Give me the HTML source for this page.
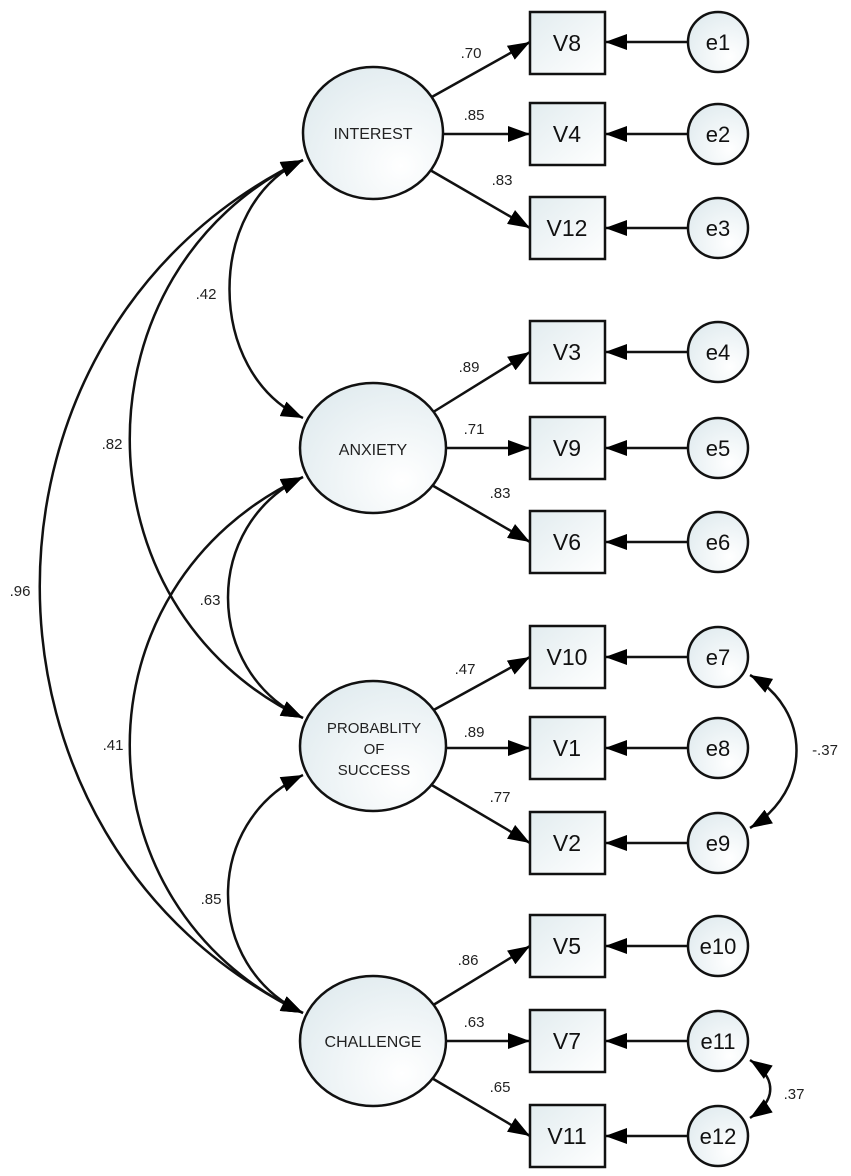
<!DOCTYPE html>
<html><head><meta charset="utf-8"><style>
html,body{margin:0;padding:0;background:#fff;}
svg{display:block;font-family:"Liberation Sans",Arial,sans-serif;}
</style></head><body>
<svg width="851" height="1176" viewBox="0 0 851 1176" xmlns="http://www.w3.org/2000/svg">
<defs>
<radialGradient id="g" cx="0.7" cy="0.75" r="0.9">
<stop offset="0" stop-color="#ffffff"/><stop offset="1" stop-color="#dfeaee"/>
</radialGradient>
<linearGradient id="gb" x1="0" y1="0" x2="1" y2="1">
<stop offset="0" stop-color="#e2ecef"/><stop offset="1" stop-color="#ffffff"/>
</linearGradient>
<marker id="a" viewBox="0 0 22 16" refX="22" refY="8" markerWidth="22" markerHeight="16" markerUnits="userSpaceOnUse" orient="auto-start-reverse">
<path d="M0,0 L22,8 L0,16 Z" fill="#000"/>
</marker>
</defs>
<g fill="none" stroke="#111" stroke-width="2.5">
<path d="M303,160 C205,205 205,373 303,418" marker-start="url(#a)" marker-end="url(#a)"/>
<path d="M303,160 C72,270 72,608 303,718" marker-start="url(#a)" marker-end="url(#a)"/>
<path d="M303,160 C-48,330 -48,843 303,1013" marker-start="url(#a)" marker-end="url(#a)"/>
<path d="M303,477 C203,525 203,670 303,718" marker-start="url(#a)" marker-end="url(#a)"/>
<path d="M303,477 C72,585 72,905 303,1013" marker-start="url(#a)" marker-end="url(#a)"/>
<path d="M303,775 C203,822 203,966 303,1013" marker-start="url(#a)" marker-end="url(#a)"/>
<path d="M750,675 C812,710 812,790 750,828" marker-start="url(#a)" marker-end="url(#a)"/>
<path d="M750,1060 C777,1078 777,1100 750,1118" marker-start="url(#a)" marker-end="url(#a)"/>
</g>
<g stroke="#111" stroke-width="2.5" marker-end="url(#a)">
<line x1="430" y1="98" x2="530" y2="42"/>
<line x1="443" y1="134" x2="530" y2="134"/>
<line x1="430" y1="170" x2="530" y2="228"/>
<line x1="430" y1="414" x2="530" y2="352"/>
<line x1="446" y1="448" x2="530" y2="448"/>
<line x1="430" y1="484" x2="530" y2="542"/>
<line x1="430" y1="712" x2="530" y2="657"/>
<line x1="446" y1="748" x2="530" y2="748"/>
<line x1="430" y1="784" x2="530" y2="843"/>
<line x1="430" y1="1007" x2="530" y2="946"/>
<line x1="446" y1="1041" x2="530" y2="1041"/>
<line x1="430" y1="1077" x2="530" y2="1136"/>
<line x1="688" y1="42" x2="605" y2="42"/>
<line x1="688" y1="134" x2="605" y2="134"/>
<line x1="688" y1="228" x2="605" y2="228"/>
<line x1="688" y1="352" x2="605" y2="352"/>
<line x1="688" y1="448" x2="605" y2="448"/>
<line x1="688" y1="542" x2="605" y2="542"/>
<line x1="688" y1="657" x2="605" y2="657"/>
<line x1="688" y1="748" x2="605" y2="748"/>
<line x1="688" y1="843" x2="605" y2="843"/>
<line x1="688" y1="946" x2="605" y2="946"/>
<line x1="688" y1="1041" x2="605" y2="1041"/>
<line x1="688" y1="1136" x2="605" y2="1136"/>
</g>
<g fill="url(#g)" stroke="#111" stroke-width="2.5">
<ellipse cx="373" cy="133" rx="70" ry="66"/>
<ellipse cx="373" cy="448" rx="73" ry="65"/>
<ellipse cx="373" cy="746" rx="73" ry="65"/>
<ellipse cx="373" cy="1041" rx="73" ry="65"/>
</g>
<g font-size="16" fill="#222" text-anchor="middle">
<text x="373" y="139">INTEREST</text>
<text x="373" y="455">ANXIETY</text>
<text x="374" y="733" font-size="15">PROBABLITY</text>
<text x="374" y="754" font-size="15">OF</text>
<text x="374" y="775" font-size="15">SUCCESS</text>
<text x="373" y="1047">CHALLENGE</text>
</g>
<g fill="url(#gb)" stroke="#111" stroke-width="2.5">
<rect x="530" y="12" width="75" height="62"/>
<rect x="530" y="103" width="75" height="62"/>
<rect x="530" y="197" width="75" height="62"/>
<rect x="530" y="321" width="75" height="62"/>
<rect x="530" y="417" width="75" height="62"/>
<rect x="530" y="511" width="75" height="62"/>
<rect x="530" y="626" width="75" height="62"/>
<rect x="530" y="717" width="75" height="62"/>
<rect x="530" y="812" width="75" height="62"/>
<rect x="530" y="915" width="75" height="62"/>
<rect x="530" y="1010" width="75" height="62"/>
<rect x="530" y="1105" width="75" height="62"/>
</g>
<g font-size="23" fill="#111" text-anchor="middle">
<text x="567" y="51">V8</text><text x="567" y="142">V4</text><text x="567" y="236">V12</text>
<text x="567" y="360">V3</text><text x="567" y="456">V9</text><text x="567" y="550">V6</text>
<text x="567" y="665">V10</text><text x="567" y="756">V1</text><text x="567" y="851">V2</text>
<text x="567" y="954">V5</text><text x="567" y="1049">V7</text><text x="567" y="1144">V11</text>
</g>
<g fill="url(#g)" stroke="#111" stroke-width="2.5">
<circle cx="718" cy="42" r="30"/><circle cx="718" cy="134" r="30"/><circle cx="718" cy="228" r="30"/>
<circle cx="718" cy="352" r="30"/><circle cx="718" cy="448" r="30"/><circle cx="718" cy="542" r="30"/>
<circle cx="718" cy="657" r="30"/><circle cx="718" cy="748" r="30"/><circle cx="718" cy="843" r="30"/>
<circle cx="718" cy="946" r="30"/><circle cx="718" cy="1041" r="30"/><circle cx="718" cy="1136" r="30"/>
</g>
<g font-size="22" fill="#111" text-anchor="middle">
<text x="718" y="50">e1</text><text x="718" y="142">e2</text><text x="718" y="236">e3</text>
<text x="718" y="360">e4</text><text x="718" y="456">e5</text><text x="718" y="550">e6</text>
<text x="718" y="665">e7</text><text x="718" y="756">e8</text><text x="718" y="851">e9</text>
<text x="718" y="954">e10</text><text x="718" y="1049">e11</text><text x="718" y="1144">e12</text>
</g>
<g font-size="15" fill="#222" text-anchor="middle">
<text x="471" y="58">.70</text><text x="474" y="120">.85</text><text x="502" y="185">.83</text>
<text x="469" y="372">.89</text><text x="474" y="434">.71</text><text x="500" y="498">.83</text>
<text x="465" y="674">.47</text><text x="474" y="737">.89</text><text x="500" y="802">.77</text>
<text x="468" y="965">.86</text><text x="474" y="1027">.63</text><text x="500" y="1092">.65</text>
<text x="206" y="299">.42</text><text x="112" y="449">.82</text><text x="20" y="596">.96</text>
<text x="210" y="605">.63</text><text x="113" y="750">.41</text><text x="211" y="904">.85</text>
<text x="825" y="755">-.37</text><text x="794" y="1099">.37</text>
</g>
</svg>
</body></html>
